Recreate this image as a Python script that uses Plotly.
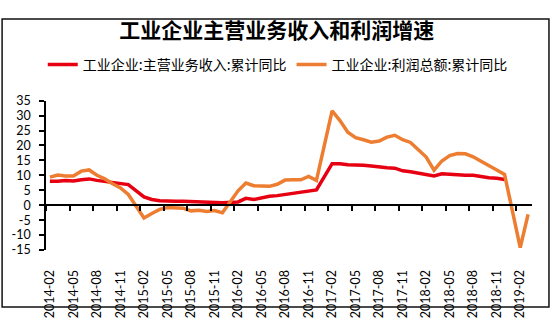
import plotly.graph_objects as go

# ---------------- data ----------------
dates = [
    "2014-02", "2014-03", "2014-04", "2014-05", "2014-06", "2014-07", "2014-08", "2014-09", "2014-10", "2014-11", "2014-12",
    "2015-02", "2015-03", "2015-04", "2015-05", "2015-06", "2015-07", "2015-08", "2015-09", "2015-10", "2015-11", "2015-12",
    "2016-02", "2016-03", "2016-04", "2016-05", "2016-06", "2016-07", "2016-08", "2016-09", "2016-10", "2016-11", "2016-12",
    "2017-02", "2017-03", "2017-04", "2017-05", "2017-06", "2017-07", "2017-08", "2017-09", "2017-10", "2017-11", "2017-12",
    "2018-02", "2018-03", "2018-04", "2018-05", "2018-06", "2018-07", "2018-08", "2018-09", "2018-10", "2018-11", "2018-12",
    "2019-02", "2019-03",
]
revenue = [
    8.0, 8.0, 8.3, 8.1, 8.5, 8.8, 8.3, 7.9, 7.5, 7.1, 6.9,
    2.8, 1.9, 1.5, 1.3, 1.3, 1.3, 1.2, 1.1, 1.0, 0.9, 0.8,
    1.1, 2.3, 1.9, 2.6, 3.0, 3.2, 3.6, 3.9, 4.1, 4.7, 5.1,
    13.9, 13.9, 13.5, 13.5, 13.4, 13.1, 12.7, 12.5, 12.4, 11.5, 11.2,
    10.3, 9.8, 10.5, 10.3, 10.1, 10.0, 10.0, 9.5, 9.2, 9.0, 8.6,
    None, None,
]
profit = [
    9.4, 10.1, 9.8, 9.8, 11.4, 11.8, 10.0, 8.8, 7.2, 5.8, 3.6,
    -4.3, -2.8, -1.4, -0.8, -0.8, -1.0, -1.9, -1.7, -2.1, -1.8, -2.5,
    4.8, 7.4, 6.5, 6.4, 6.3, 7.0, 8.4, 8.5, 8.5, 9.6, 8.3,
    31.6, 28.3, 24.4, 22.6, 21.9, 21.1, 21.5, 22.8, 23.4, 21.9, 21.0,
    16.1, 11.7, 14.8, 16.6, 17.3, 17.2, 16.2, 14.7, 13.4, 11.8, 10.3,
    -14.2, -3.1,
]
x_tick_labels = [
    "2014-02", "2014-05", "2014-08", "2014-11", "2015-02", "2015-05", "2015-08", "2015-11",
    "2016-02", "2016-05", "2016-08", "2016-11", "2017-02", "2017-05", "2017-08", "2017-11",
    "2018-02", "2018-05", "2018-08", "2018-11", "2019-02",
]
y_ticks = [-15, -10, -5, 0, 5, 10, 15, 20, 25, 30, 35]
series_names = ["工业企业:主营业务收入:累计同比", "工业企业:利润总额:累计同比"]
title_text = "工业企业主营业务收入和利润增速"

START, END = "2014-02", "2019-03"


def month_index(d):
    y, m = d.split("-")
    return (int(y) - int(START[:4])) * 12 + int(m) - int(START[5:])


xs = [month_index(d) for d in dates]
x_min = month_index(START) - 0.5
x_max = month_index(END) + 0.5

# ---------------- layout geometry ----------------
W, H = 550, 330
ML, MR, MT, MB = 45, 18, 94, 66
PW, PH = W - ML - MR, H - MT - MB

RED = "#E60012"
ORANGE = "#ED7D31"
TICK_FONT = dict(family="Lato, 'Open Sans', sans-serif", size=12.5, color="#000")
CJK = "'Noto Sans CJK SC', 'Noto Sans', sans-serif"

fig = go.Figure()
fig.add_trace(go.Scatter(x=xs, y=revenue, mode="lines", name=series_names[0],
                         line=dict(color=RED, width=3.5), connectgaps=False))
fig.add_trace(go.Scatter(x=xs, y=profit, mode="lines", name=series_names[1],
                         line=dict(color=ORANGE, width=3.5)))
# helper trace so the zero-line axis exists
fig.add_trace(go.Scatter(x=[], y=[], xaxis="x2", yaxis="y", showlegend=False, hoverinfo="skip"))

y_lo, y_hi = y_ticks[0], y_ticks[-1]

fig.update_layout(
    width=W, height=H,
    margin=dict(l=ML, r=MR, t=MT, b=MB, pad=0),
    paper_bgcolor="white", plot_bgcolor="white",
    title=dict(text=title_text, xref="container", yref="container",
               x=0.503, y=1 - 23 / H, xanchor="center", yanchor="top",
               font=dict(family=CJK, size=21, color="#000", weight="bold")),
    legend=dict(orientation="h", xref="container", yref="container",
                x=0.505, y=1 - 65 / H, xanchor="center", yanchor="middle",
                font=dict(family=CJK, size=14, color="#000"),
                itemwidth=30, bgcolor="rgba(0,0,0,0)"),
    showlegend=True,
    xaxis=dict(range=[x_min, x_max], tickmode="array",
               tickvals=[month_index(t) for t in x_tick_labels], ticktext=x_tick_labels,
               tickangle=-90, tickfont=TICK_FONT, showline=False, showgrid=False,
               zeroline=False, ticks="outside", ticklen=14, tickcolor="rgba(0,0,0,0)"),
    xaxis2=dict(range=[x_min, x_max], overlaying="x", anchor="free",
                position=(0 - y_lo) / (y_hi - y_lo),
                tickmode="linear", tick0=x_min, dtick=3, ticks="outside", ticklen=5,
                tickwidth=1.5, tickcolor="#000", showline=True, linecolor="#000",
                linewidth=1.5, showticklabels=False, showgrid=False, zeroline=False),
    yaxis=dict(range=[y_lo, y_hi], tickmode="array", tickvals=y_ticks,
               ticktext=[str(v) for v in y_ticks], tickfont=TICK_FONT,
               showline=True, linecolor="#000", linewidth=1.5, ticks="outside",
               ticklen=5, tickwidth=1.5, tickcolor="#000", showgrid=False,
               zeroline=False, ticklabelstandoff=6),
    shapes=[dict(type="rect", xref="paper", yref="paper",
                 x0=(1 - ML) / PW, x1=(W - 1 - ML) / PW,
                 y0=-(H - 1 - MT - PH) / PH, y1=1 + (MT - 1) / PH,
                 line=dict(color="#111", width=1.5), fillcolor="rgba(0,0,0,0)", layer="above")],
)

fig.write_html("out.html")
